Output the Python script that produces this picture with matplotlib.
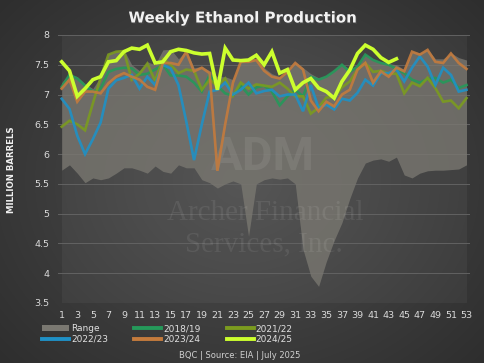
import numpy as np
import matplotlib
matplotlib.use("Agg")
import matplotlib.pyplot as plt
from matplotlib.patches import Patch
from matplotlib.lines import Line2D
import matplotlib.patheffects as pe

weeks = list(range(1, 54))
x_ticks = list(range(1, 54, 2))
y_ticks = [3.5, 4, 4.5, 5, 5.5, 6, 6.5, 7, 7.5, 8]
y_tick_labels = ["3.5", "4", "4.5", "5", "5.5", "6", "6.5", "7", "7.5", "8"]

range_low = [5.73, 5.82, 5.68, 5.52, 5.60, 5.57, 5.60, 5.68, 5.77, 5.77,
             5.73, 5.68, 5.80, 5.71, 5.68, 5.82, 5.77, 5.77, 5.57, 5.52,
             5.43, 5.50, 5.55, 5.50, 4.62, 5.50, 5.57, 5.60, 5.58, 5.60,
             5.50, 4.40, 3.95, 3.78, 4.20, 4.55, 4.85, 5.25, 5.60, 5.85,
             5.90, 5.92, 5.88, 5.95, 5.65, 5.60, 5.68, 5.72, 5.73, 5.73,
             5.74, 5.75, 5.82]
range_high = [7.20, 7.35, 7.30, 7.18, 7.10, 7.30, 7.68, 7.73, 7.75, 7.50,
              7.40, 7.55, 7.50, 7.75, 7.76, 7.60, 7.74, 7.45, 7.47, 7.40,
              7.30, 7.30, 7.25, 7.58, 7.60, 7.60, 7.45, 7.35, 7.30, 7.40,
              7.55, 7.45, 7.35, 7.28, 7.32, 7.42, 7.52, 7.42, 7.50, 7.68,
              7.60, 7.55, 7.52, 7.50, 7.42, 7.73, 7.70, 7.76, 7.60, 7.60,
              7.70, 7.62, 7.58]

y2018 = [7.13, 7.33, 7.27, 7.15, 7.05, 7.10, 7.38, 7.43, 7.45, 7.44,
         7.33, 7.35, 7.42, 7.50, 7.32, 7.32, 7.30, 7.20, 7.05, 7.33,
         7.15, 7.02, 6.98, 7.15, 7.00, 7.12, 7.15, 7.05, 6.82, 6.97,
         7.08, 6.97, 7.30, 7.25, 7.30, 7.39, 7.50, 7.38, 7.47, 7.67,
         7.58, 7.53, 7.50, 7.43, 7.36, 7.25, 7.20, 7.26, 7.28, 7.20,
         7.25, 7.11, 7.16]
y2021 = [6.46, 6.56, 6.50, 6.40, 6.85, 7.28, 7.67, 7.72, 7.73, 7.25,
         7.35, 7.52, 7.23, 7.60, 7.50, 7.36, 7.42, 7.40, 7.08, 7.25,
         7.15, 7.27, 6.98, 7.20, 7.10, 7.17, 7.15, 7.13, 7.20, 7.10,
         6.97, 6.97, 6.68, 6.78, 6.95, 6.96, 7.12, 7.22, 7.42, 7.53,
         7.38, 7.40, 7.35, 7.35, 7.02, 7.20, 7.14, 7.28, 7.11, 6.88,
         6.90, 6.77, 6.94]
y2022 = [6.93, 6.76, 6.31, 6.00, 6.25, 6.53, 7.10, 7.24, 7.28, 7.33,
         7.10, 7.30, 7.16, 7.50, 7.44, 7.16, 6.55, 5.90, 6.50, 7.05,
         7.08, 7.20, 7.00, 7.08, 7.20, 7.02, 7.06, 7.08, 6.97, 7.00,
         7.00, 6.72, 7.16, 6.77, 6.83, 6.75, 6.93, 6.90, 7.03, 7.25,
         7.15, 7.36, 7.36, 7.42, 7.22, 7.45, 7.64, 7.47, 7.16, 7.45,
         7.33, 7.05, 7.08]
y2023 = [7.10, 7.25, 6.88, 7.05, 7.05, 7.02, 7.19, 7.30, 7.36, 7.30,
         7.25, 7.13, 7.08, 7.53, 7.53, 7.50, 7.72, 7.39, 7.45, 7.36,
         5.72, 6.50, 7.20, 7.55, 7.55, 7.58, 7.40, 7.30, 7.27, 7.38,
         7.53, 7.42, 6.90, 6.72, 6.88, 6.80, 7.00, 7.08, 7.42, 7.53,
         7.20, 7.39, 7.30, 7.45, 7.39, 7.72, 7.67, 7.75, 7.55, 7.53,
         7.69, 7.53, 7.43]
y2024 = [7.55, 7.40, 6.97, 7.10, 7.25, 7.30, 7.55, 7.57, 7.72, 7.78,
         7.76, 7.83, 7.53, 7.55, 7.72, 7.76, 7.74, 7.70, 7.68, 7.69,
         7.08, 7.78, 7.58, 7.57, 7.58, 7.66, 7.50, 7.72, 7.36, 7.42,
         7.08, 7.20, 7.27, 7.11, 7.05, 6.94, 7.22, 7.41, 7.69, 7.83,
         7.76, 7.62, 7.54, 7.60]

series = [
    ("2018/19", y2018, "#25995a", 1.9),
    ("2021/22", y2021, "#7b9b1f", 1.9),
    ("2022/23", y2022, "#1f91c6", 1.9),
    ("2023/24", y2023, "#c47b3d", 1.9),
    ("2024/25", y2024, "#ccff2e", 2.6),
]
range_color = "#7a7871"

W, H = 485, 363
fig = plt.figure(figsize=(W / 100, H / 100), dpi=100)

# background radial gradient
bg = fig.add_axes([0, 0, 1, 1], zorder=-10)
yy, xx = np.mgrid[-1:1:H * 1j, -1:1:W * 1j]
r = np.sqrt((xx * 1.0) ** 2 + (yy * 0.9) ** 2) / 1.35
v = 0.31 - 0.13 * np.clip(r, 0, 1)
bg.imshow(np.dstack([v, v, v]), aspect="auto", extent=[0, 1, 0, 1])
bg.axis("off")

ax = fig.add_axes([57.8 / W, 1 - 303 / H, (470.4 - 57.8) / W, (303 - 35) / H])
ax.patch.set_alpha(0)
ax.set_xlim(0.5, 53.5)
ax.set_ylim(3.5, 8)
ax.axvspan(1, 53, color="white", alpha=0.045, lw=0, zorder=0)

ax.set_yticks(y_ticks)
ax.set_yticklabels(y_tick_labels)
ax.set_xticks(x_ticks)
ax.tick_params(length=0, colors="#dadada", labelsize=6.8)
ax.tick_params(axis="x", pad=6)
ax.tick_params(axis="y", pad=6)
for s in ax.spines.values():
    s.set_visible(False)
ax.grid(axis="y", color="#626262", lw=0.7, zorder=1)

ax.fill_between(weeks, range_low, range_high, color=range_color, alpha=0.78,
                lw=0, zorder=2)

# watermark
wm = dict(color="white", alpha=0.08, ha="center", va="center",
          transform=fig.transFigure, zorder=3)
ax.text(263 / W, 1 - 157 / H, "ADM", fontsize=34, fontweight="bold",
        family="Roboto", **wm)
ax.text(265 / W, 1 - 213 / H, "Archer Financial", fontsize=21,
        family="Liberation Serif", **wm)
ax.text(264 / W, 1 - 244 / H, "Services, Inc.", fontsize=21,
        family="Liberation Serif", **wm)

handles = {}
for i, (name, vals, col, lw) in enumerate(series):
    ax.plot(weeks[:len(vals)], vals, color=col, lw=lw,
            zorder=4 + i, solid_joinstyle="miter", alpha=0.9 if i < 4 else 1)
    handles[name] = Line2D([], [], color=col, lw=2.8)
handles["Range"] = Patch(facecolor=range_color, edgecolor="none")

order = ["Range", "2022/23", "2018/19", "2023/24", "2021/22", "2024/25"]
fig.legend([handles[k] for k in order], order, ncol=3, loc="upper left",
           bbox_to_anchor=(42 / W, 1 - 324 / H), frameon=False, fontsize=6.5,
           labelcolor="#e0e0e0", handlelength=3.0, handleheight=0.6,
           handletextpad=0.2, columnspacing=2.9, labelspacing=0.2,
           borderpad=0, borderaxespad=0)

fig.text(0.5, 1 - 18 / H, "Weekly Ethanol Production", ha="center", va="center",
         fontsize=10.8, fontweight="bold", color="#f2f2f2",
         path_effects=[pe.withSimplePatchShadow(offset=(1, -1), alpha=0.6)])
fig.text(12 / W, 1 - 170 / H, "MILLION BARRELS", rotation=90, ha="center",
         va="center", fontsize=6.2, fontweight="bold", color="#f0f0f0")
fig.text(240 / W, 1 - 355 / H, "BQC | Source: EIA | July 2025", ha="center",
         va="center", fontsize=6.0, color="#d0d0d0")

fig.savefig("out.png", dpi=100)
